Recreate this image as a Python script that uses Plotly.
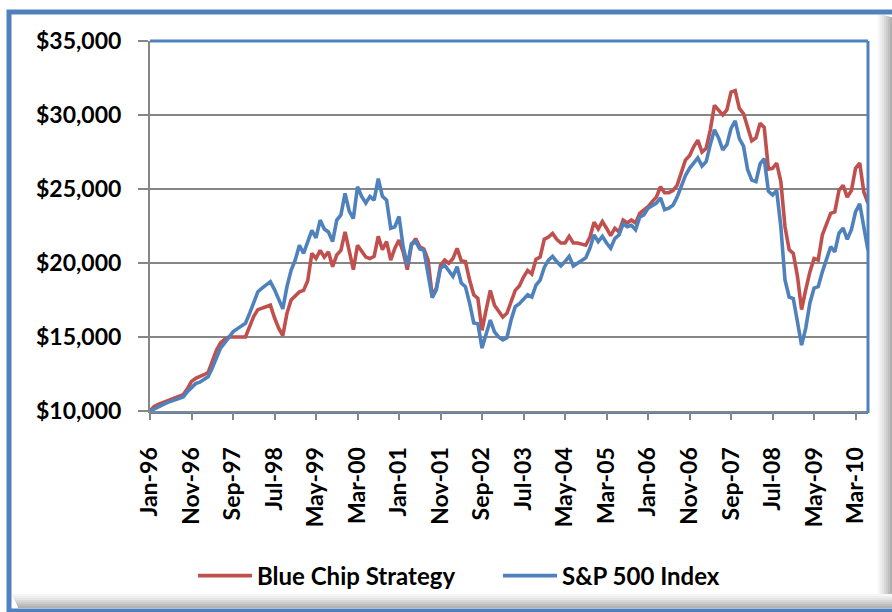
import plotly.graph_objects as go

# ---------------- data ----------------
MONTH_NAMES = ["Jan", "Feb", "Mar", "Apr", "May", "Jun",
               "Jul", "Aug", "Sep", "Oct", "Nov", "Dec"]
months = [f"{MONTH_NAMES[i % 12]}-{(96 + i // 12) % 100:02d}" for i in range(174)]  # Jan-96 .. Jun-10

blue_chip = [
    10000, 10300, 10450, 10550, 10650, 10750, 10850, 10950, 11100, 11500,
    12000, 12200, 12300, 12450, 12600, 13400, 14100, 14600, 14850, 15000,
    15000, 15000, 15000, 15000, 15700, 16400, 16850, 16950, 17050, 17150,
    16300, 15600, 15100, 16600, 17500, 17800, 18050, 18150, 18800, 20650,
    20300, 20850, 20400, 20750, 19750, 20550, 20850, 22100, 20900, 19550,
    21200, 20800, 20400, 20300, 20450, 21800, 20900, 21450, 20200, 21000,
    21550, 20750, 19550, 21200, 21650, 21100, 20950, 20200, 17750, 18300,
    19850, 20200, 19980, 20300, 20990, 20150, 20100, 18850, 17850, 17600,
    15450, 16850, 18150, 17150, 16700, 16350, 16600, 17400, 18150, 18450,
    19050, 19500, 19250, 20250, 20400, 21600, 21750, 22000, 21600, 21350,
    21350, 21800, 21350, 21350, 21300, 21200, 21750, 22750, 22300, 22800,
    22350, 21850, 22350, 22100, 22900, 22700, 22900, 22700, 23350, 23600,
    23800, 24150, 24450, 25150, 24750, 24750, 24900, 25250, 26050, 26950,
    27250, 27850, 28300, 27500, 27750, 29000, 30650, 30350, 30000, 30350,
    31550, 31650, 30450, 30100, 29100, 28250, 28450, 29450, 29150, 26350,
    26400, 26750, 25500, 22450, 20900, 20650, 19100, 16850, 18200, 19400,
    20300, 20200, 21900, 22700, 23350, 23450, 24900, 25250, 24450, 24900,
    26400, 26750, 24800, 24050,
]

sp500 = [
    10000, 10150, 10300, 10450, 10550, 10650, 10750, 10850, 10950, 11300,
    11600, 11850, 11950, 12150, 12320, 12900, 13600, 14250, 14600, 15000,
    15350, 15550, 15750, 15930, 16600, 17400, 18060, 18300, 18550, 18740,
    18200, 17500, 16900, 18400, 19500, 20200, 21200, 20650, 21400, 22200,
    21700, 22900, 22300, 22100, 21450, 22900, 23250, 24700, 23500, 23000,
    25150, 24500, 24050, 24500, 24250, 25700, 24500, 24250, 22350, 22450,
    23150, 21100, 19850, 21300, 21450, 20950, 20850, 19400, 17650, 18200,
    19650, 19850, 19500, 19100, 19750, 18650, 18400, 17300, 15950, 15900,
    14250, 15250, 16150, 15350, 15000, 14800, 14950, 16150, 17050, 17250,
    17550, 17850, 17700, 18500, 18850, 19700, 20200, 20450, 20100, 19800,
    20100, 20450, 19800, 20000, 20200, 20350, 21000, 21900, 21450, 21800,
    21350, 21000, 21650, 21900, 22650, 22450, 22550, 22250, 23100, 23250,
    23700, 23850, 24050, 24400, 23600, 23700, 23900, 24450, 25150, 25900,
    26400, 26750, 27100, 26550, 26850, 28000, 29000, 28450, 27650, 28000,
    29100, 29600, 28400, 27900, 26300, 25600, 25500, 26700, 27050, 24850,
    24600, 24900, 22450, 18850, 17700, 17600, 16050, 14450, 15600, 17300,
    18300, 18400, 19400, 20200, 21100, 20750, 22000, 22350, 21600, 22250,
    23450, 24000, 22450, 20850,
]

tick_labels = months[::10]
y_ticks = [10000, 15000, 20000, 25000, 30000, 35000]
y_tick_text = ["$10,000", "$15,000", "$20,000", "$25,000", "$30,000", "$35,000"]

series_names = ["Blue Chip Strategy", "S&P 500 Index"]
series_colors = ["#C0504D", "#4F81BD"]

# ---------------- figure ----------------
W, H = 892, 612
L, R, T, B = 150, 24, 41, 201
PW, PH = W - L - R, H - T - B

def px_x(px):
    return (px - L) / PW

def px_y(py):
    return (H - B - py) / PH

FONT = dict(family="Lato, 'Open Sans', sans-serif", size=23, color="#000000", weight="bold")
LEG_FONT = dict(family="Lato, 'Open Sans', sans-serif", size=24, color="#000000", weight="bold")

fig = go.Figure()
for name, vals, col in zip(series_names, [blue_chip, sp500], series_colors):
    fig.add_trace(go.Scatter(
        x=months, y=vals, name=name, mode="lines",
        line=dict(color=col, width=3.6),
    ))

AX_GRAY = "#868686"
fig.update_xaxes(
    type="category", categoryorder="array", categoryarray=months,
    range=[0, len(months) - 1], automargin=False,
    tickmode="array", tickvals=tick_labels, ticktext=tick_labels,
    tickangle=-90, ticks="outside", ticklen=7, tickwidth=2, tickcolor=AX_GRAY,
    showline=True, linecolor=AX_GRAY, linewidth=2,
    showgrid=False, zeroline=False,
    tickfont=FONT, ticklabelstandoff=18,
)
fig.update_yaxes(
    range=[10000, 35000], automargin=False,
    tickmode="array", tickvals=y_ticks, ticktext=y_tick_text,
    ticks="outside", ticklen=10, tickwidth=2, tickcolor=AX_GRAY,
    showline=True, linecolor=AX_GRAY, linewidth=2,
    showgrid=True, gridcolor=AX_GRAY, gridwidth=2,
    zeroline=False, tickfont=FONT, ticklabelstandoff=12,
)

shapes = []
BLUE = "#4F81BD"
# plot-area border (top, right, bottom)
shapes.append(dict(type="line", xref="paper", yref="paper", x0=0, x1=1, y0=1, y1=1,
                   line=dict(color=BLUE, width=3), layer="above"))
shapes.append(dict(type="line", xref="paper", yref="paper", x0=1, x1=1, y0=px_y(413), y1=1,
                   line=dict(color=BLUE, width=3), layer="above"))
shapes.append(dict(type="line", xref="paper", yref="paper", x0=0, x1=1, y0=px_y(413), y1=px_y(413),
                   line=dict(color=BLUE, width=2), layer="below"))

# inner shadow of the outer frame (right and bottom)
grays = ["#F6F6F6", "#EEEEEE", "#E4E4E4", "#D8D8D8", "#CCCCCC", "#BEBEBE", "#B2B2B2"]
for i, g in enumerate(grays):
    x0 = 878 + i * 2
    shapes.append(dict(type="rect", xref="paper", yref="paper",
                       x0=px_x(x0), x1=px_x(x0 + 2), y0=px_y(608), y1=px_y(14 + i * 0.5),
                       fillcolor=g, line=dict(width=0), layer="above"))
for i, g in enumerate(grays):
    y0 = 594 + i * 2
    shapes.append(dict(type="rect", xref="paper", yref="paper",
                       x0=px_x(12 + i), x1=px_x(892), y0=px_y(y0 + 2), y1=px_y(y0),
                       fillcolor=g, line=dict(width=0), layer="above"))
# outer frame
shapes.append(dict(type="rect", xref="paper", yref="paper",
                   x0=px_x(9), x1=px_x(905), y0=px_y(611), y1=px_y(12),
                   line=dict(color=BLUE, width=5), fillcolor="rgba(0,0,0,0)", layer="above"))

fig.update_layout(
    width=W, height=H,
    margin=dict(l=L, r=R, t=T, b=B, pad=0, autoexpand=False),
    paper_bgcolor="white", plot_bgcolor="white",
    font=FONT,
    shapes=shapes,
    showlegend=True,
    hovermode=False,
    legend=dict(
        orientation="h", x=px_x(193), xanchor="left", y=px_y(576), yanchor="middle",
        font=LEG_FONT, itemwidth=54, entrywidth=236, entrywidthmode="pixels",
        bgcolor="rgba(0,0,0,0)", borderwidth=0,
    ),
)

fig.write_html(
    "out.html",
    config={"displayModeBar": False, "staticPlot": True},
    post_script="document.body.style.margin='0';document.body.style.overflow='hidden';",
)
